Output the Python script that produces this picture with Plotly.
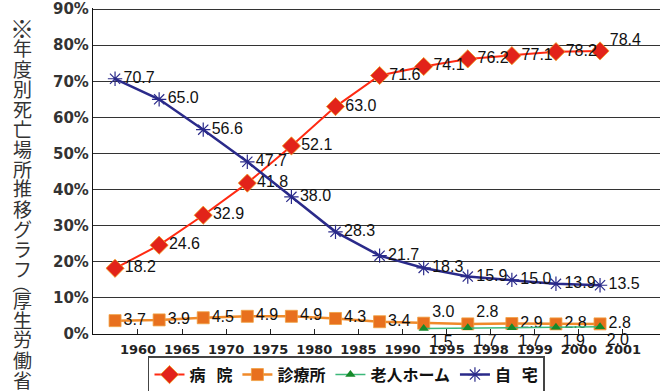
import plotly.graph_objects as go

years = ["1960", "1965", "1970", "1975", "1980", "1985", "1990",
         "1995", "1998", "1999", "2000", "2001"]
hospital = [18.2, 24.6, 32.9, 41.8, 52.1, 63.0, 71.6, 74.1, 76.2, 77.1, 78.2, 78.4]
clinic = [3.7, 3.9, 4.5, 4.9, 4.9, 4.3, 3.4, 3.0, 2.8, 2.9, 2.8, 2.8]
nursing_years = ["1995", "1998", "1999", "2000", "2001"]
nursing = [1.5, 1.7, 1.7, 1.9, 2.0]
home = [70.7, 65.0, 56.6, 47.7, 38.0, 28.3, 21.7, 18.3, 15.9, 15.0, 13.9, 13.5]
y_ticks = [0, 10, 20, 30, 40, 50, 60, 70, 80, 90]

xi = list(range(len(years)))
nx = [years.index(y) for y in nursing_years]

LABEL_FONT = dict(family="Liberation Sans, Arial, sans-serif", size=16, color="#111111")
SP = "\u00a0\u00a0\u00a0"

fig = go.Figure()

# labels raised half a line (placed above-right of the marker)
hosp_text = [f"{v:.1f}" for v in hospital]
hosp_text[-1] = hosp_text[-1] + "<br> "
fig.add_trace(go.Scatter(
    x=xi, y=hospital, name="病" + SP + "院", mode="lines+markers+text",
    line=dict(color="#FF2A12", width=2),
    marker=dict(symbol="diamond", size=14, color="#E2231A",
                line=dict(color="#F0A020", width=0.8)),
    text=hosp_text, textposition="middle right",
    textfont=LABEL_FONT, cliponaxis=False,
))

clinic_text = [f"{v:.1f}" for v in clinic]
clinic_text[7] = clinic_text[7] + "<br> "
clinic_text[8] = clinic_text[8] + "<br> "
fig.add_trace(go.Scatter(
    x=xi, y=clinic, name="診療所", mode="lines+markers+text",
    line=dict(color="#F08A2A", width=2.5),
    marker=dict(symbol="square", size=12, color="#E8701E",
                line=dict(color="#F0A040", width=0.8)),
    text=clinic_text, textposition="middle right",
    textfont=LABEL_FONT, cliponaxis=False,
))

fig.add_trace(go.Scatter(
    x=nx, y=nursing, name="老人ホーム", mode="lines+markers+text",
    line=dict(color="#3CB87A", width=1.5),
    marker=dict(symbol="triangle-up", size=9, color="#168A2A"),
    text=[f"{v:.1f}" for v in nursing], textposition="bottom right",
    textfont=LABEL_FONT, cliponaxis=False,
))

fig.add_trace(go.Scatter(
    x=xi, y=home, name="自" + SP + "宅", mode="lines+markers+text",
    line=dict(color="#2A2A8A", width=2.5),
    marker=dict(symbol="asterisk-open", size=12,
                line=dict(color="#5A5AD0", width=1.2)),
    text=[f"{v:.1f}" for v in home], textposition="middle right",
    textfont=LABEL_FONT, cliponaxis=False,
))

# vertical title on the left (page-pixel positions converted to paper coords)
title_chars = list("※年度別死亡場所推移グラフ") + ["（"] + list("厚生労働省")
plot_top, plot_bottom, plot_left, plot_w = 8, 334, 93, 567
ypix = [28 + 20 * k for k in range(13)] + [284, 299, 319, 339, 359, 379]
annotations = []
for ch, yp in zip(title_chars, ypix):
    size = 19
    angle = 0
    if ch == "※":
        size = 24
    if ch == "（":
        angle = 90
        size = 17
    annotations.append(dict(
        text=ch, xref="paper", yref="paper",
        x=(22 - plot_left) / plot_w, y=(plot_bottom - yp) / (plot_bottom - plot_top),
        xanchor="center", yanchor="middle", showarrow=False, textangle=angle,
        font=dict(family="Noto Sans CJK JP", size=size, color="#333333"),
    ))

fig.update_layout(
    width=664, height=391,
    margin=dict(l=93, r=4, t=8, b=57, autoexpand=False),
    paper_bgcolor="white", plot_bgcolor="white",
    showlegend=True,
    legend=dict(
        orientation="h", x=0.097, y=-0.068, xanchor="left", yanchor="top",
        bordercolor="#444444", borderwidth=1.5, bgcolor="white",
        font=dict(family="Noto Sans CJK JP", size=16, color="#111111", weight="bold"),
        itemwidth=30, tracegroupgap=0,
    ),
    annotations=annotations,
)

fig.update_xaxes(
    range=[-0.5, 12.36], tickmode="array",
    tickvals=[i + 0.52 for i in xi], ticktext=years,
    ticks="inside", ticklen=5, tickcolor="#222222",
    showline=True, linecolor="#111111", linewidth=1.2,
    showgrid=False, zeroline=False, ticklabelstandoff=3,
    tickfont=dict(family="DejaVu Sans", size=13, color="#222222", weight="bold"),
)
fig.update_yaxes(
    range=[0, 90.3], tickmode="array", tickvals=y_ticks,
    ticktext=[f"{v}%" for v in y_ticks],
    showline=True, linecolor="#111111", linewidth=1.2,
    showgrid=True, gridcolor="#333333", gridwidth=1.2, zeroline=False,
    ticks="", ticklabelstandoff=0,
    tickfont=dict(family="DejaVu Sans", size=15, color="#333333", weight="bold"),
)

# remove the default 8px page margin so the figure sits at the window's corner
fig.write_html("out.html", config={"displayModeBar": False},
               post_script="document.body.style.margin='0';")
